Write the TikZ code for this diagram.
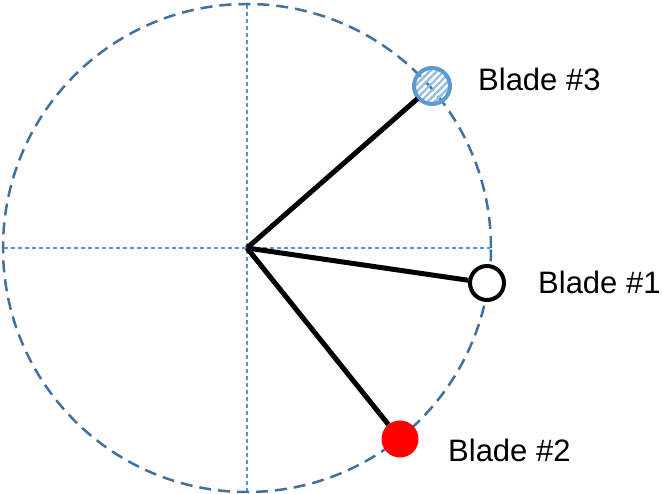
\documentclass[tikz,border=0pt]{standalone}
\usepackage{fontspec}
\setmainfont{Liberation Sans}
\usetikzlibrary{patterns.meta}
\definecolor{rimblue}{RGB}{65,113,156}
\definecolor{axisblue}{RGB}{80,150,220}
\definecolor{tipblue}{RGB}{91,155,213}
\definecolor{hatchblue}{RGB}{150,190,228}
\begin{document}
\begin{tikzpicture}[x=1pt,y=-1pt,
  rim/.style={draw=rimblue,line width=2.5pt,dash pattern=on 12pt off 7pt},
  axisline/.style={draw=axisblue,line width=1.2pt,dash pattern=on 4pt off 3pt},
  spoke/.style={draw=black,line width=5pt},
  bladetip/.style={circle,inner sep=0pt},
  bladelabel/.style={anchor=base west,inner sep=0pt,font=\fontsize{31}{37}\selectfont}]
  \useasboundingbox (0,0) rectangle (662,494);
  \fill[white] (0,0) rectangle (662,494);

  % rotor disc outline and axes
  \coordinate (hub) at (247,248);
  \path[rim] (hub) circle[radius=244pt];
  \coordinate (xl) at (4,248);
  \coordinate (xr) at (490,248);
  \coordinate (yt) at (247,5);
  \coordinate (yb) at (247,491);
  \draw[axisline] (xl) -- (xr);
  \draw[axisline] (yt) -- (yb);

  % blade tips
  \node[bladetip,minimum size=36pt,draw=tipblue,line width=4pt,
        pattern={Lines[angle=45,distance=5pt,line width=2.4pt]},pattern color=hatchblue] (b3) at (432,86) {};
  \node[bladetip,minimum size=34pt,draw=black,line width=4pt,fill=white] (b1) at (487,283) {};
  \node[bladetip,minimum size=37pt,fill=red] (b2) at (400,439) {};

  % blades
  \draw[spoke] (hub) -- (b3);
  \draw[spoke] (hub) -- (b1);
  \draw[spoke] (hub) -- (b2);

  % labels
  \node[bladelabel] (l3) at (478,91) {Blade \#3};
  \node[bladelabel] (l1) at (538,294) {Blade \#1};
  \node[bladelabel] (l2) at (448,461) {Blade \#2};
\end{tikzpicture}
\end{document}
